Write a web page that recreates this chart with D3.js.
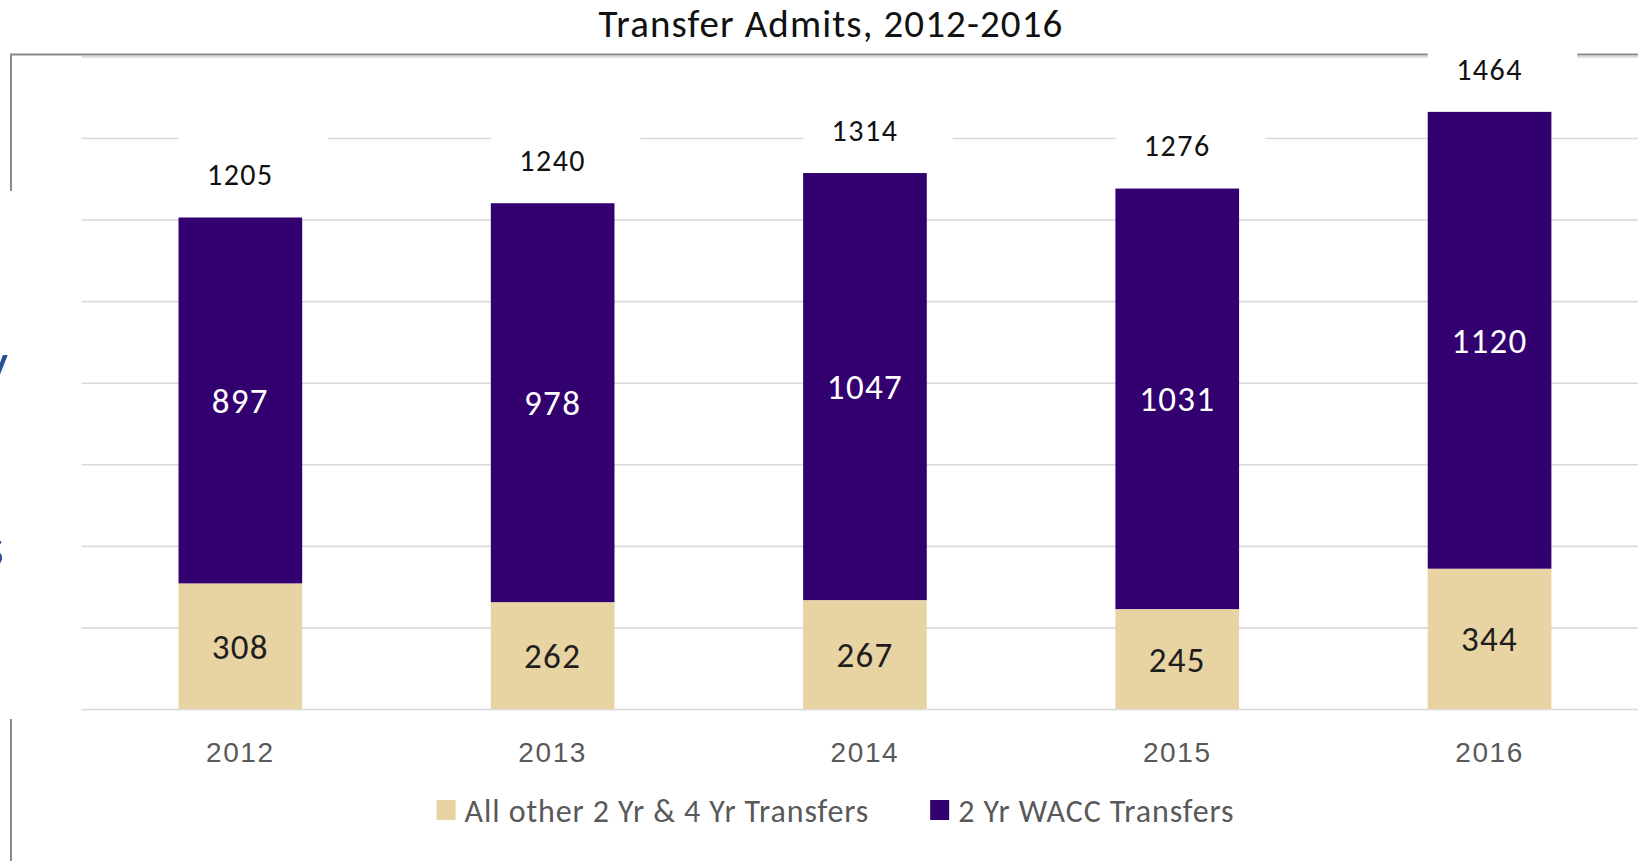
<!DOCTYPE html>
<html>
<head>
<meta charset="utf-8">
<script src="https://cdn.jsdelivr.net/npm/d3@7"></script>
<style>
  body { margin: 0; background: #fff; }
  svg { display: block; font-family: Carlito, Calibri, Lato, sans-serif; font-variant-numeric: tabular-nums; }
</style>
</head>
<body>
<svg width="1638" height="861"></svg>
<script>
    const years = ['2012', '2013', '2014', '2015', '2016'];
    const otherTransfers = [308, 262, 267, 245, 344];
    const waccTransfers = [897, 978, 1047, 1031, 1120];
    const totals = [1205, 1240, 1314, 1276, 1464];
    const yTicks = [0, 200, 400, 600, 800, 1000, 1200, 1400, 1600];
    const seriesNames = ['All other 2 Yr & 4 Yr Transfers', '2 Yr WACC Transfers'];
    const seriesKeys = ['other', 'wacc'];

    const colors = { other: '#e8d3a2', wacc: '#33006f' };
    const labelColors = { other: '#1e1e1e', wacc: '#ffffff' };

    const rows = years.map((year, i) => ({
        year,
        other: otherTransfers[i],
        wacc: waccTransfers[i],
        total: totals[i]
    }));

    const svg = d3.select('svg');

    const plotLeft = 81.5;
    const plotRight = 1638;

    const x = d3.scaleBand()
        .domain(years)
        .range([84.2, 84.2 + 5 * 312.3])
        .paddingInner(0.604)
        .paddingOuter(0.302);

    const y = d3.scaleLinear()
        .domain([0, 1600])
        .range([709, 56.4]);

    // slide frame behind the chart (partly hidden)
    const frame = svg.append('g')
        .attr('stroke', '#8a8a8a')
        .attr('stroke-width', 2);
    frame.append('line').attr('x1', 10).attr('x2', 1638).attr('y1', 54.5).attr('y2', 54.5);
    frame.append('line').attr('x1', 11).attr('x2', 11).attr('y1', 54).attr('y2', 191);
    frame.append('line').attr('x1', 11).attr('x2', 11).attr('y1', 719).attr('y2', 861);

    // cut-off text of the slide, left edge
    svg.append('text').attr('x', 8).attr('y', 382).attr('text-anchor', 'end')
        .attr('font-size', 56).attr('fill', '#24509a').text('y');
    svg.append('text').attr('x', 4).attr('y', 566).attr('text-anchor', 'end')
        .attr('font-size', 56).attr('fill', '#24509a').text('s');

    // gridlines
    const grid = svg.append('g')
        .attr('transform', `translate(${plotRight},0)`)
        .call(d3.axisLeft(y).tickValues(yTicks).tickSize(plotRight - plotLeft).tickFormat(''));
    grid.select('.domain').remove();
    grid.selectAll('.tick line').attr('stroke', '#d9d9d9').attr('stroke-width', 1.6);

    // invisible "total" series: white blocks on top of each stack
    svg.append('g').selectAll('rect')
        .data(rows)
        .enter().append('rect')
        .attr('x', d => x(d.year))
        .attr('width', x.bandwidth() * 1.21)
        .attr('y', d => y(d.total + 250))
        .attr('height', d => y(d.total) - y(d.total + 250))
        .attr('fill', '#ffffff');

    const stacked = d3.stack().keys(seriesKeys)(rows);

    const layers = svg.append('g').selectAll('g')
        .data(stacked)
        .enter().append('g')
        .attr('fill', s => colors[s.key]);

    layers.selectAll('rect')
        .data(s => s)
        .enter().append('rect')
        .attr('x', d => x(d.data.year))
        .attr('width', x.bandwidth())
        .attr('y', d => y(d[1]))
        .attr('height', d => y(d[0]) - y(d[1]));

    // segment labels
    svg.append('g').selectAll('g')
        .data(stacked)
        .enter().append('g')
        .attr('fill', s => labelColors[s.key])
        .selectAll('text')
        .data(s => s.map(d => Object.assign({ key: s.key }, d)))
        .enter().append('text')
        .attr('x', d => x(d.data.year) + x.bandwidth() / 2)
        .attr('y', d => (y(d[0]) + y(d[1])) / 2)
        .attr('dy', '0.36em')
        .attr('text-anchor', 'middle')
        .attr('font-size', 35)
        .attr('letter-spacing', 1.3)
        .text(d => d.data[d.key]);

    // total labels
    svg.append('g').selectAll('text')
        .data(rows)
        .enter().append('text')
        .attr('x', d => x(d.year) + x.bandwidth() / 2)
        .attr('y', d => y(d.total) - 43)
        .attr('dy', '0.36em')
        .attr('text-anchor', 'middle')
        .attr('font-size', 30)
        .attr('letter-spacing', 1.5)
        .attr('fill', '#111')
        .text(d => d.total);

    // x axis labels
    const xAxis = svg.append('g')
        .attr('transform', 'translate(0,709)')
        .call(d3.axisBottom(x).tickSize(0).tickPadding(33));
    xAxis.select('.domain').remove();
    xAxis.selectAll('text')
        .attr('font-size', 28)
        .attr('letter-spacing', 1.6)
        .attr('font-family', null)
        .attr('fill', '#595959');

    // title
    svg.append('text')
        .attr('x', 831)
        .attr('y', 37)
        .attr('text-anchor', 'middle')
        .attr('font-size', 39)
        .attr('letter-spacing', 1.1)
        .attr('fill', '#111')
        .text('Transfer Admits, 2012-2016');

    // legend
    const legend = svg.append('g')
        .attr('transform', 'translate(0,810)');

    const items = legend.selectAll('g')
        .data(seriesKeys)
        .enter().append('g');

    items.append('rect')
        .attr('width', 19)
        .attr('height', 20)
        .attr('y', -10)
        .attr('fill', k => colors[k]);

    items.append('text')
        .attr('x', 28)
        .attr('dy', '0.36em')
        .attr('font-size', 32)
        .attr('letter-spacing', 0.9)
        .attr('fill', '#595959')
        .text((k, i) => seriesNames[i]);

    let offset = 0;
    const itemX = [];
    items.each(function() {
        itemX.push(offset);
        offset += this.getBBox().width + 61;
    });
    const legendWidth = offset - 61;
    const legendStart = 835.5 - legendWidth / 2;
    items.attr('transform', (k, i) => `translate(${legendStart + itemX[i]},0)`);
</script>
</body>
</html>
